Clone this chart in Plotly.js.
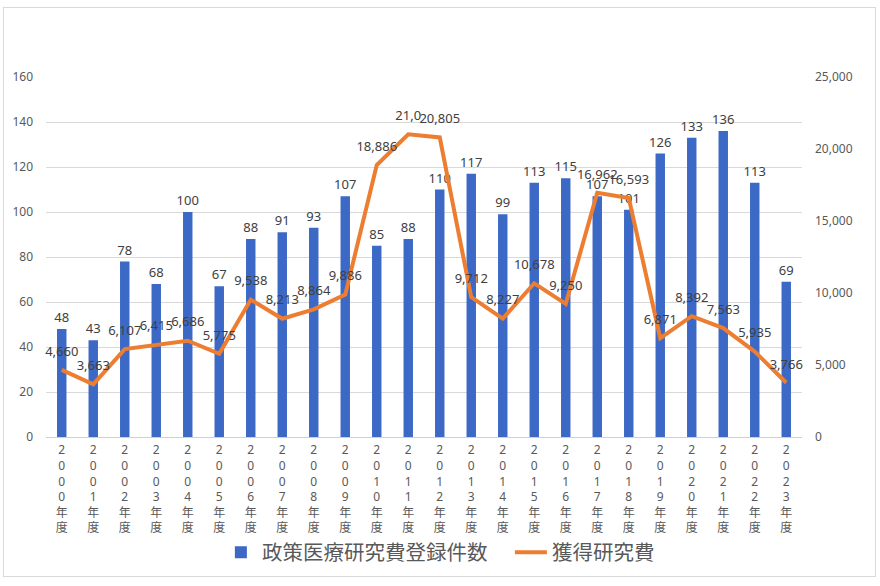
<!DOCTYPE html>
<html>
<head>
<meta charset="utf-8">
<script src="https://cdn.plot.ly/plotly-3.0.1.min.js"></script>
<style>
  body { margin: 0; background: #fff; }
  #chart { width: 880px; height: 586px; }
  #frame { position: absolute; left: 3px; top: 7px; width: 873px; height: 570px; border: 1px solid #d9d9d9; pointer-events: none; box-sizing: border-box; }
</style>
</head>
<body>
<div id="chart"></div>
<div id="frame"></div>
<script>
// fiscal years
var years = ["2000","2001","2002","2003","2004","2005","2006","2007","2008","2009","2010","2011",
             "2012","2013","2014","2015","2016","2017","2018","2019","2020","2021","2022","2023"];

// 政策医療研究費登録件数 (left axis)
var counts = [48,43,78,68,100,67,88,91,93,107,85,88,110,117,99,113,115,107,101,126,133,136,113,69];

// 獲得研究費 (right axis)
var funding = [4660,3663,6107,6415,6686,5775,9538,8213,8864,9886,18886,21020,
               20805,9712,8227,10678,9250,16962,16593,6871,8392,7563,5935,3766];

// vertical tick labels: one character per line
var tickLabels = years.map(y => (y + "年度").split("").join("<br>"));

// line labels, 2011 label is cut off in the original
var fundingLabels = funding.map(v => v.toLocaleString("en-US"));
fundingLabels[11] = "21,0";

var fontFam = "'Noto Sans', 'Noto Sans CJK JP', sans-serif";

var bars = {
  x: years,
  y: counts,
  type: "bar",
  name: "政策医療研究費登録件数",
  marker: { color: "#3d69c6" },
  text: counts.map(String),
  textposition: "outside",
  constraintext: "none",
  textfont: { size: 13, color: "#404040" },
  cliponaxis: false
};

var line = {
  x: years,
  y: funding,
  type: "scatter",
  mode: "lines+markers+text",
  name: "獲得研究費",
  yaxis: "y2",
  line: { color: "#ed7d31", width: 4 },
  marker: { size: 16, color: "rgba(0,0,0,0)" },
  text: fundingLabels,
  textposition: "top center",
  textfont: { size: 13, color: "#404040" },
  cliponaxis: false
};

var layout = {
  width: 880,
  height: 586,
  margin: { l: 46, r: 78, t: 77, b: 149 },
  font: { family: fontFam, color: "#595959" },
  paper_bgcolor: "#fff",
  plot_bgcolor: "#fff",
  bargap: 0.7,
  showlegend: true,
  legend: {
    orientation: "h",
    x: 0.23, xanchor: "left",
    y: -0.265, yanchor: "top",
    bgcolor: "rgba(0,0,0,0)",
    font: { size: 20.5, color: "#595959" },
    itemwidth: 32,
    entrywidth: 243
  },
  xaxis: {
    type: "category",
    range: [-0.5, 23.5],
    tickmode: "array",
    tickvals: years,
    ticktext: tickLabels,
    tickangle: 0,
    tickfont: { size: 12, color: "#595959" },
    ticklabelstandoff: 2,
    showline: true,
    linecolor: "#d0d0d0",
    ticks: ""
  },
  yaxis: {
    range: [0, 160],
    dtick: 20,
    gridcolor: "#d9d9d9",
    zeroline: false,
    tickfont: { size: 12, color: "#595959" },
    ticklabelstandoff: 12
  },
  yaxis2: {
    overlaying: "y",
    side: "right",
    range: [0, 25000],
    dtick: 5000,
    tickformat: ",d",
    showgrid: false,
    zeroline: false,
    tickfont: { size: 12, color: "#595959" },
    ticklabelstandoff: 12
  }
};

Plotly.newPlot("chart", [bars, line], layout, { displayModeBar: false });
</script>
</body>
</html>
